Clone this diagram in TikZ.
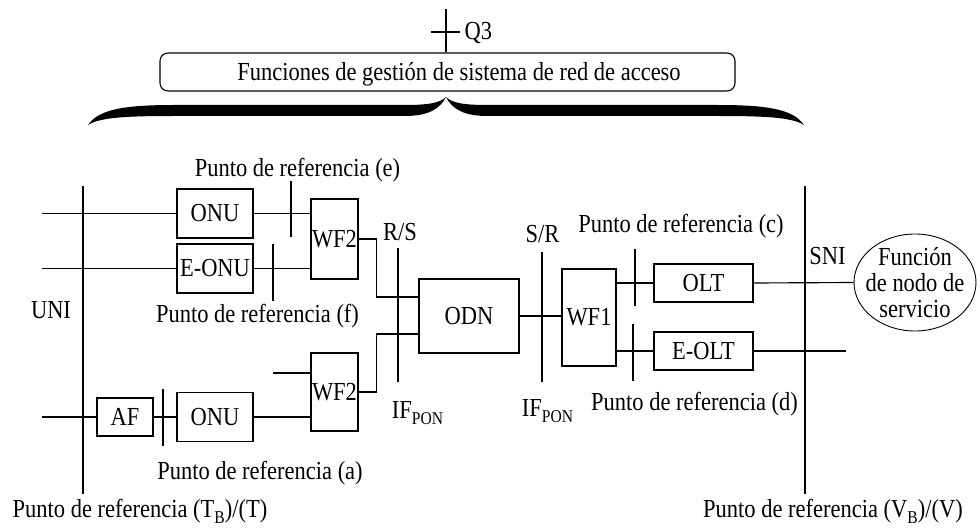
\documentclass[tikz,border=0pt]{standalone}
\usepackage{fontspec}
\setmainfont{Liberation Serif}[FakeStretch=0.865]
\usetikzlibrary{shapes.geometric}

\def\bracehalf{(88,125) .. controls (99,108) and (130,105) .. (175,105) -- (405,105) .. controls (428,105) and (440,103) .. (446,97) .. controls (440,109) and (428,116) .. (405,116) -- (175,116) .. controls (130,116) and (100,117) .. (88,125) -- cycle}
\newcommand{\subidx}[1]{\raisebox{-6pt}{\fontsize{18}{18}\selectfont #1}}

\tikzset{
  blk/.style={draw, inner sep=0pt},
  txt/.style={inner sep=0pt, anchor=base}
}

\begin{document}
\begin{tikzpicture}[x=1pt, y=-1pt, line width=1.15pt, font=\fontsize{26}{26}\selectfont]
\useasboundingbox (0,0) rectangle (977,529);

\node[blk, rounded corners=8pt, minimum width=575pt, minimum height=38pt] (mgmt) at (447.5,72) {};
\node[txt] (mgmttxt) at (459,81) {Funciones de gestión de sistema de red de acceso};
\coordinate (q3top) at (446,9);
\draw (q3top) -- (q3top |- mgmt.north);
\draw (431,32) -- (460,32);
\node[txt, anchor=base west] (q3) at (464,40) {Q3};
\fill \bracehalf;
\begin{scope}[xshift=892, xscale=-1]
  \fill \bracehalf;
\end{scope}

\foreach \x/\ya/\yb in {83/186/494, 805/186/494, 291/181/237, 273/244/301, 163/389/446,
                        398/248/382, 542/252/382, 635/249/306, 633/324/381}
  \draw (\x,\ya) -- (\x,\yb);

\node[blk, minimum width=76pt, minimum height=49pt] (onua) at (215,213.5) {ONU};
\node[blk, minimum width=76pt, minimum height=49pt] (eonu) at (215,268.5) {E-ONU};
\node[blk, minimum width=47pt, minimum height=80pt] (wf2a) at (334.5,239) {WF2};
\node[blk, minimum width=47pt, minimum height=78pt] (wf2b) at (334.5,392) {WF2};
\node[blk, minimum width=56pt, minimum height=38pt] (af) at (125,417) {AF};
\node[blk, minimum width=76pt, minimum height=49pt] (onub) at (215,417) {ONU};
\node[blk, minimum width=100pt, minimum height=74pt] (odn) at (469,316) {ODN};
\node[blk, minimum width=54pt, minimum height=97pt] (wf1) at (589,317.5) {WF1};
\node[blk, minimum width=99pt, minimum height=38pt] (olt) at (703.5,283) {OLT};
\node[blk, minimum width=99pt, minimum height=38pt] (eolt) at (703.5,351) {E-OLT};
\node[blk, ellipse, line width=0.9pt, minimum width=122pt, minimum height=97pt] (fns) at (915,282.5) {};
\node[inner sep=0pt, align=center] (fnstxt) at (fns.center) {Función\\de nodo de\\servicio};

\coordinate (in1) at (42,213.5);
\coordinate (in2) at (42,268.5);
\coordinate (in3) at (42,417);
\coordinate (in4) at (273,373);
\coordinate (out) at (846,351);

\draw (in1) -- (onua.west);
\draw (in2) -- (eonu.west);
\draw (onua.east) -- (wf2a.west |- onua.east);
\draw (eonu.east) -- (wf2a.west |- eonu.east);
\draw (in3) -- (af.west);
\draw (af.east) -- (onub.west);
\draw (onub.east) -- (wf2b.west |- onub.east);
\draw (in4) -- (wf2b.west |- in4);
\draw (wf2a.east) -| ([xshift=-42pt, yshift=19pt]odn.west) -- ([yshift=19pt]odn.west);
\draw (wf2b.east) -| ([xshift=-42pt, yshift=-18pt]odn.west) -- ([yshift=-18pt]odn.west);
\draw (odn.east) -- (wf1.west |- odn.east);
\draw (wf1.east |- olt.west) -- (olt.west);
\draw (wf1.east |- eolt.west) -- (eolt.west);
\draw (olt.east) -- (fns.west);
\draw (eolt.east) -- (out);

\node[txt] (refe) at (297.5,177) {Punto de referencia (e)};
\node[txt] (reff) at (257.5,323) {Punto de referencia (f)};
\node[txt] (refa) at (260,479) {Punto de referencia (a)};
\node[txt] (refc) at (681,233) {Punto de referencia (c)};
\node[txt] (refd) at (694.5,410) {Punto de referencia (d)};
\node[txt] (reftb) at (140,517) {Punto de referencia (T\subidx{B})/(T)};
\node[txt] (refvb) at (833,517) {Punto de referencia (V\subidx{B})/(V)};
\node[txt] (uni) at (51,318) {UNI};
\node[txt] (sni) at (827.5,265) {SNI};
\node[txt] (rs) at (400,241) {R/S};
\node[txt] (sr) at (542.5,243) {S/R};
\node[txt] (ifa) at (417.5,418) {IF\subidx{PON}};
\node[txt] (ifb) at (547.5,416) {IF\subidx{PON}};
\end{tikzpicture}
\end{document}
